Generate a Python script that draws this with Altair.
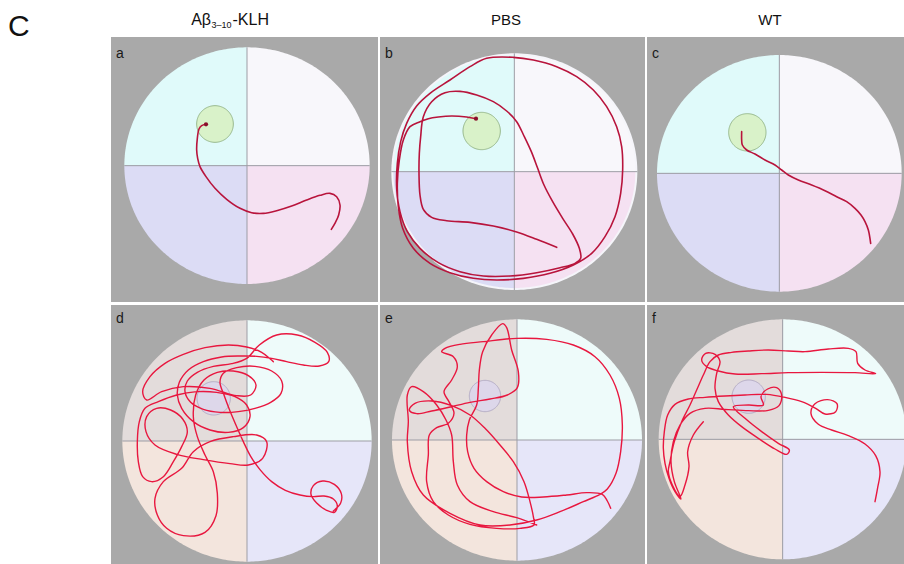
import math
import altair as alt
import pandas as pd

FONT = "Liberation Sans"
GRAY = "#a9a9a9"

# ---------------------------------------------------------------------------
# Swim tracks in tracker-camera pixels (x to the right, y downward).
# First point = release position, last point = end of the trial.
# ---------------------------------------------------------------------------
TRACK_A_X = [694, 706, 716, 720, 710, 690, 660, 620, 575, 530, 490, 455, 420, 380,
             345, 318, 300, 293, 290, 292, 297, 305, 318]
TRACK_A_Y = [598, 578, 555, 525, 500, 490, 496, 510, 528, 542, 550, 548, 535, 508,
             475, 440, 410, 385, 360, 325, 297, 287, 283]

TRACK_B_X = [560, 500, 440, 370, 300, 230, 185, 160, 150, 147, 148, 152, 160, 185, 225,
             270, 320, 370, 410, 440, 462, 484, 503, 522, 548, 578, 608, 628, 632, 615,
             570, 500, 420, 340, 270, 205, 150, 112, 90, 80, 82, 92, 110, 140, 180, 240,
             300, 350, 430, 490, 560, 620, 670, 710, 740, 755, 758, 752, 735, 705, 665,
             610, 540, 460, 380, 310, 240, 180, 130, 98, 85, 82, 88, 100, 120, 150, 175,
             205, 245, 290, 318]
TRACK_B_Y = [652, 628, 606, 588, 577, 572, 562, 538, 495, 430, 370, 320, 260, 215, 188,
             184, 195, 215, 243, 275, 318, 365, 415, 465, 515, 565, 612, 655, 685, 700,
             713, 728, 738, 738, 725, 698, 655, 605, 545, 475, 400, 335, 280, 228, 190,
             150, 110, 85, 82, 90, 110, 140, 180, 230, 290, 350, 420, 490, 560, 620, 670,
             705, 730, 745, 750, 745, 728, 700, 655, 595, 530, 460, 390, 330, 290, 275,
             266, 261, 258, 261, 266]

TRACK_C_X = [707, 700, 690, 678, 660, 635, 605, 570, 530, 490, 460, 440, 420, 390, 360,
             335, 322, 320, 320]
TRACK_C_Y = [640, 600, 575, 555, 535, 515, 500, 482, 465, 450, 435, 420, 405, 390, 372,
             360, 345, 330, 305]

TRACK_D_X = [700, 722, 724, 703, 668, 640, 633, 650, 680, 703, 712, 700, 672, 640, 600,
             556, 515, 480, 452, 430, 410, 390, 372, 360, 370, 410, 465, 515, 545, 543,
             512, 465, 415, 360, 310, 272, 255, 262, 292, 340, 395, 440, 478, 530, 592,
             645, 682, 686, 658, 610, 560, 515, 470, 420, 365, 310, 265, 238, 232, 245,
             280, 330, 385, 430, 450, 440, 405, 350, 290, 230, 175, 135, 118, 112, 115,
             128, 155, 190, 220, 245, 262, 248, 212, 170, 140, 138, 165, 230, 310, 390,
             445, 488, 500, 470, 400, 330, 280, 245, 190, 165, 172, 200, 250, 315, 348,
             352, 340, 315, 292, 280, 287, 312, 352, 400, 445, 468, 452, 410, 330, 250,
             185, 140, 128, 150, 195, 250, 315, 385, 440, 485, 520]
TRACK_D_Y = [648, 624, 596, 568, 558, 572, 598, 624, 646, 652, 633, 612, 603, 605, 600,
             586, 560, 524, 484, 440, 395, 348, 300, 262, 235, 218, 214, 228, 258, 295,
             322, 340, 350, 352, 343, 322, 290, 258, 232, 214, 206, 190, 150, 120, 120,
             142, 172, 200, 213, 210, 200, 190, 184, 183, 186, 200, 225, 262, 300, 340,
             380, 405, 412, 398, 365, 330, 305, 292, 290, 300, 320, 340, 380, 440, 500,
             545, 560, 545, 500, 455, 410, 372, 345, 340, 365, 410, 450, 478, 494, 506,
             510, 490, 440, 420, 425, 440, 470, 520, 560, 610, 660, 700, 722, 712, 662,
             595, 530, 480, 425, 365, 300, 255, 232, 228, 242, 270, 300, 302, 280, 275,
             290, 315, 290, 245, 205, 178, 158, 150, 156, 172, 200]

TRACK_E_X = [722, 712, 697, 650, 590, 520, 455, 400, 350, 312, 293, 290, 298, 320, 325,
             328, 338, 365, 398, 410, 425, 445, 442, 412, 360, 300, 240, 185, 140, 118,
             135, 185, 245, 300, 345, 390, 430, 462, 480, 490, 492, 450, 380, 300, 235,
             190, 170, 175, 178, 200, 235, 252, 238, 222, 245, 262, 250, 215, 225, 270,
             340, 440, 530, 610, 675, 720, 748, 757, 752, 738, 712, 690, 640, 570, 500,
             420, 330, 240, 160, 125, 112, 115, 112, 125, 160, 200, 228, 245, 250, 262,
             300, 370, 440, 500]
TRACK_E_Y = [640, 618, 598, 593, 600, 606, 606, 590, 560, 520, 470, 420, 375, 330, 280,
             225, 170, 120, 86, 98, 165, 230, 278, 300, 312, 322, 336, 348, 356, 345,
             325, 318, 332, 360, 400, 450, 500, 560, 620, 665, 690, 700, 700, 688, 660,
             620, 560, 480, 420, 398, 385, 355, 322, 290, 255, 215, 185, 170, 160, 148,
             140, 130, 133, 150, 185, 240, 310, 390, 470, 535, 582, 598, 620, 650, 675,
             690, 690, 655, 600, 530, 440, 380, 300, 275, 290, 330, 375, 420, 500, 570,
             620, 650, 668, 690]

TRACK_F_X = [720, 728, 735, 722, 690, 640, 590, 550, 528, 540, 578, 606, 602, 570, 542,
             500, 450, 395, 330, 270, 210, 160, 120, 98, 88, 85, 90, 102, 120, 138, 118,
             108, 115, 135, 165, 210, 270, 340, 400, 432, 440, 425, 398, 378, 385, 340,
             295, 330, 380, 430, 463, 455, 420, 370, 320, 280, 250, 240, 245, 255, 240,
             212, 200, 215, 250, 300, 380, 460, 560, 660, 722, 690, 668, 663, 640, 580,
             510, 460, 400, 340, 290, 250, 225, 205, 185, 165, 140, 118, 105, 100, 112,
             135, 150, 162, 158, 175, 205]
TRACK_F_Y = [620, 578, 530, 482, 447, 422, 405, 388, 356, 326, 314, 326, 350, 357, 340,
             320, 307, 298, 300, 303, 307, 312, 328, 360, 410, 460, 505, 550, 590, 612, 560,
             500, 440, 390, 355, 340, 343, 347, 346, 332, 300, 278, 282, 305, 330, 330,
             335, 370, 410, 445, 465, 478, 462, 430, 395, 360, 320, 280, 235, 200, 178,
             175, 195, 215, 228, 237, 236, 233, 232, 233, 236, 225, 205, 170, 160, 162,
             170, 168, 165, 168, 172, 180, 200, 240, 285, 330, 380, 440, 500, 530, 570,
             604, 570, 515, 470, 420, 380]

PANELS = ["a", "b", "c", "d", "e", "f"]
TRACKS = {"a": (TRACK_A_X, TRACK_A_Y), "b": (TRACK_B_X, TRACK_B_Y),
          "c": (TRACK_C_X, TRACK_C_Y), "d": (TRACK_D_X, TRACK_D_Y),
          "e": (TRACK_E_X, TRACK_E_Y), "f": (TRACK_F_X, TRACK_F_Y)}

# Pool calibration for each video: centre and half-axes (camera px)
POOL_CX = {"a": 441, "b": 433, "c": 433, "d": 441, "e": 441, "f": 443}
POOL_CY = {"a": 407, "b": 425, "c": 430, "d": 438, "e": 435, "f": 433}
POOL_RX = {"a": 368, "b": 369, "c": 367, "d": 374, "e": 375, "f": 372}
POOL_RY = {"a": 355, "b": 355, "c": 355, "d": 362, "e": 362, "f": 360}

# Hidden platform (target quadrant, upper left)
PLATFORM_X = {"a": 345, "b": 335, "c": 337, "d": 341, "e": 345, "f": 341}
PLATFORM_Y = {"a": 282, "b": 303, "c": 307, "d": 310, "e": 303, "f": 305}
PLATFORM_R = {"a": 55, "b": 56, "c": 56, "d": 50, "e": 47, "f": 50}

# Visible camera frame of each video (camera px)
FRAME_X = {"a": (33, 834), "b": (30, 825), "c": (36, 807),
           "d": (33, 834), "e": (30, 825), "f": (36, 807)}
FRAME_Y = {"a": (21, 816), "b": (21, 816), "c": (21, 816),
           "d": (30, 807), "e": (30, 807), "f": (30, 807)}

GROUPS = ["Aβ3–10-KLH", "PBS", "WT"]

COLUMN_W = [267, 265, 257]
ROW_H = [265, 259]
HEADER_H = 34
GUTTER_W = 109

QUAD_TOP = {"NW": "#e0fafa", "NE": "#f8f7fb", "SW": "#dcdcf5", "SE": "#f5e1f2"}
QUAD_BOTTOM = {"NW": "#e3dcdb", "NE": "#eefbfa", "SW": "#f3e5dd", "SE": "#e6e6f9"}

CLEAR = alt.ViewBackground(fill="transparent", stroke="transparent")


def quadrant_frame(cx, cy, rx, ry, colors, n=90):
    spans = {"NW": (math.pi, math.pi / 2, -1), "NE": (math.pi / 2, 0.0, -1),
             "SW": (math.pi, math.pi / 2, 1), "SE": (math.pi / 2, 0.0, 1)}
    rows = []
    for q, (t0, t1, s) in spans.items():
        for k in range(n + 1):
            t = t0 + (t1 - t0) * k / n
            rows.append({"quad": q, "fill": colors[q],
                         "x": cx + rx * math.cos(t),
                         "y": cy + s * ry * math.sin(t), "y2": cy})
    return pd.DataFrame(rows)


def disc_frame(cx, cy, rx, ry, n=120):
    rows = []
    for k in range(n + 1):
        t = math.pi * k / n
        rows.append({"x": cx - rx * math.cos(t),
                     "y": cy - ry * math.sin(t), "y2": cy + ry * math.sin(t)})
    return pd.DataFrame(rows)


def panel(p, width, height, top_row):
    cx, cy, rx, ry = POOL_CX[p], POOL_CY[p], POOL_RX[p], POOL_RY[p]
    xs = alt.Scale(domain=list(FRAME_X[p]), nice=False, zero=False)
    ys = alt.Scale(domain=list(FRAME_Y[p]), nice=False, zero=False, reverse=True)
    X = alt.X("x:Q", scale=xs, axis=None)
    Y = alt.Y("y:Q", scale=ys, axis=None)

    layers = []
    if p == "b":
        # this video shows a pale rim round the pool wall
        rim = alt.Chart(disc_frame(cx, cy, rx, ry)).mark_area(
            clip=True, color="#f5f5fa").encode(x=X, y=Y, y2="y2:Q")
        layers.append(rim)
        qrx, qry = rx - 6, ry - 6
    else:
        qrx, qry = rx, ry

    quads = alt.Chart(quadrant_frame(cx, cy, qrx, qry,
                                     QUAD_TOP if top_row else QUAD_BOTTOM)).mark_area(
        clip=True).encode(x=X, y=Y, y2="y2:Q",
                          color=alt.Color("fill:N", scale=None, legend=None))
    layers.append(quads)

    plat_fill, plat_stroke = ("#d9f2c9", "#97b88c") if top_row else ("#ddd7ea", "#b4acc4")
    r = PLATFORM_R[p]
    plat = alt.Chart(disc_frame(PLATFORM_X[p], PLATFORM_Y[p], r, r, n=60)).mark_area(
        clip=True, fill=plat_fill, stroke=plat_stroke, strokeWidth=1).encode(
        x=X, y=Y, y2="y2:Q")

    axes_df = pd.DataFrame({"x": [cx - rx, cx], "x2": [cx + rx, cx],
                            "y": [cy, cy - ry], "y2": [cy, cy + ry]})
    cross = alt.Chart(axes_df).mark_rule(clip=True, color="#9d9da5", strokeWidth=1).encode(
        x=X, x2="x2:Q", y=Y, y2="y2:Q")

    if top_row:
        layers += [cross, plat]
    else:
        layers += [plat, cross]

    tx, ty = TRACKS[p]
    track_df = pd.DataFrame({"i": range(len(tx)), "x": tx, "y": ty})
    line_color = "#b8143c" if top_row else "#e8173f"
    track = alt.Chart(track_df).mark_line(
        clip=True, color=line_color, strokeWidth=1.6 if top_row else 1.4,
        interpolate="catmull-rom", strokeJoin="round", strokeCap="round").encode(
        x=X, y=Y, order=alt.Order("i:Q"))
    layers.append(track)

    if p in ("a", "b"):
        end_dot = alt.Chart(track_df.tail(1)).mark_circle(
            clip=True, color="#8a0f2a", size=18, opacity=1).encode(x=X, y=Y)
        layers.append(end_dot)

    label = alt.Chart(pd.DataFrame({"t": [p]})).mark_text(
        align="left", baseline="alphabetic", fontSize=14, font=FONT, color="#1a1a1a").encode(
        x=alt.value(5), y=alt.value(21 if top_row else 18), text="t:N")
    layers.append(label)

    return alt.layer(*layers).properties(
        width=width, height=height,
        view=alt.ViewBackground(fill=GRAY, stroke="transparent"))


def text_piece(s, x, y, size, align):
    return alt.Chart(pd.DataFrame({"t": [s]})).mark_text(
        align=align, baseline="alphabetic", fontSize=size, font=FONT, color="#111111").encode(
        x=alt.value(x), y=alt.value(y), text="t:N")


def blank(width, height, *pieces):
    # invisible anchor kept well inside the cell so it never widens the layout
    base = alt.Chart(pd.DataFrame({"v": [0]})).mark_point(opacity=0).encode(
        x=alt.value(width / 2), y=alt.value(height / 2))
    return alt.layer(base, *pieces).properties(width=width, height=height, view=CLEAR)


# header row: figure letter, then one group name over each column
head_gutter = blank(GUTTER_W, HEADER_H, text_piece("C", 8, 36, 30, "left"))
head_a = blank(COLUMN_W[0], HEADER_H,
               text_piece(GROUPS[0][:2], 100, 25, 16, "right"),
               text_piece(GROUPS[0][2:6], 100.5, 27.5, 9, "left"),
               text_piece(GROUPS[0][6:], 121.5, 25, 16, "left"))
head_b = blank(COLUMN_W[1], HEADER_H, text_piece(GROUPS[1], 126, 25, 15, "center"))
head_c = blank(COLUMN_W[2], HEADER_H, text_piece(GROUPS[2], 123, 25, 15, "center"))

cells = [head_gutter, head_a, head_b, head_c]
for r, (ps, top) in enumerate([(PANELS[:3], True), (PANELS[3:], False)]):
    cells.append(blank(GUTTER_W, ROW_H[r]))
    for c, p in enumerate(ps):
        cells.append(panel(p, COLUMN_W[c], ROW_H[r], top))

chart = alt.concat(*cells, columns=4, spacing=alt.RowColnumber(row=3, column=2),
                   bounds="flush").properties(
    padding=0, background="white"
).configure(font=FONT).configure_view(strokeWidth=0)

chart.save("out.html", embed_options={"renderer": "svg", "actions": False})
